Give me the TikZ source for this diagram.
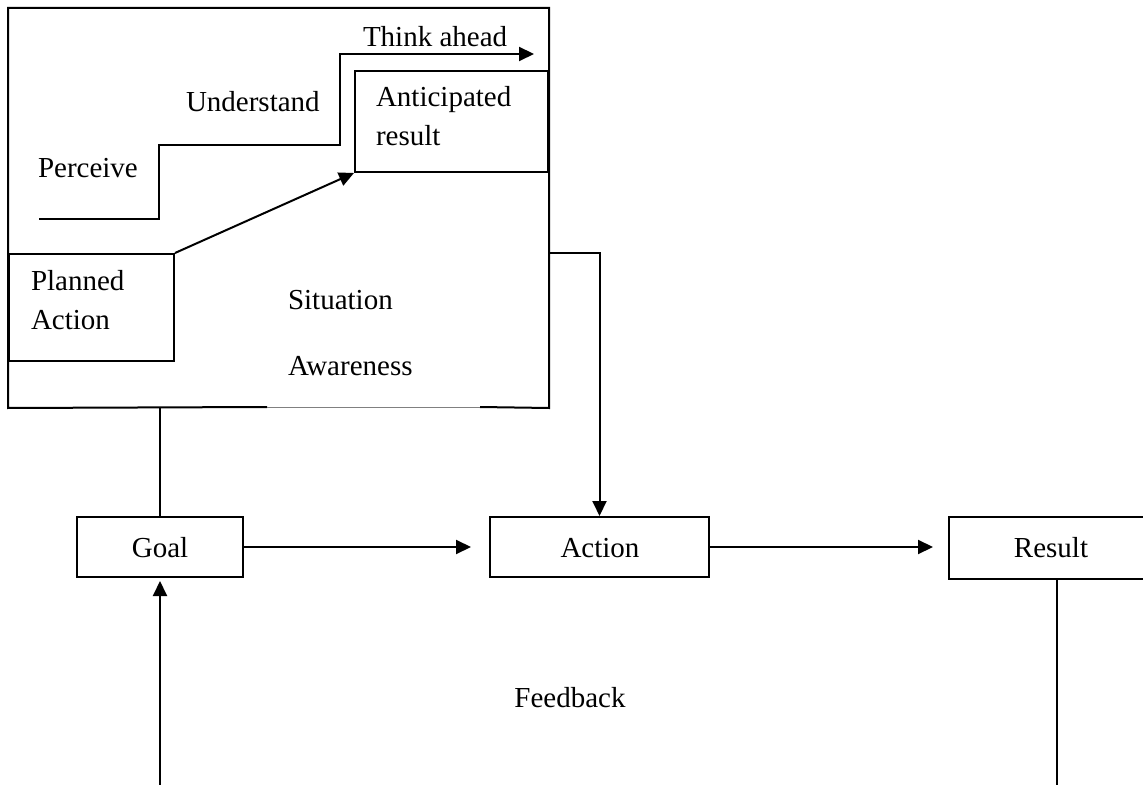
\documentclass[tikz,border=0pt]{standalone}
\usepackage{fontspec}
\setmainfont{Liberation Serif}
\usetikzlibrary{arrows.meta,fit,calc}
\begin{document}
\begin{tikzpicture}[x=0.5pt,y=-0.5pt,
  line width=1pt,
  box/.style={draw,inner sep=0pt,line width=1pt},
  lbl/.style={anchor=base west,inner sep=0pt,font=\fontsize{14.5}{17}\selectfont},
  clbl/.style={anchor=base,inner sep=0pt,font=\fontsize{14.5}{17}\selectfont},
  arr/.style={-{Triangle[length=7.5pt,width=7pt]}},
]
\fill[white] (0,0) rectangle (1143,785);
\useasboundingbox (0,0) rectangle (1143,785);
\clip (0,0) rectangle (1143,785);

% outer Situation Awareness box (bottom border interrupted by a white label area)
\node[inner sep=0pt,fit={(9,9) (548,407)}] (SA) {};
\coordinate (gapL) at (267,407);
\coordinate (gapR) at (480,407);
\draw (gapL) -- (SA.south west) -- (SA.north west) -- (SA.north east) -- (SA.south east) -- (gapR);
\draw[line width=0.5pt,gray] (gapL) -- (gapR);

% inner boxes
\node[box,fit={(9,254) (174,361)}] (PA) {};
\node[box,fit={(355,71) (548,172)}] (AR) {};

% lower boxes
\node[box,fit={(77,517) (243,577)}] (Goal) {};
\node[box,fit={(490,517) (709,577)}] (Action) {};
\node[box,fit={(949,517) (1170,579)}] (Result) {};

% texts
\node[lbl] (tThink) at (362,47) {Think ahead};
\node[lbl] (tUnder) at (185,112) {Understand};
\node[lbl] (tPerc) at (37,178) {Perceive};
\node[lbl] (tAnt1) at (375,107) {Anticipated};
\node[lbl] (tAnt2) at (375,146) {result};
\node[lbl] (tPA1) at (30,291) {Planned};
\node[lbl] (tPA2) at (30,330) {Action};
\node[lbl] (tSit) at (287,310) {Situation};
\node[lbl] (tAw) at (287,375) {Awareness};
\node[clbl] (tGoal) at (160,557) {Goal};
\node[clbl] (tAction) at (600,557) {Action};
\node[clbl] (tResult) at (1051,557) {Result};
\node[clbl] (tFeed) at (570,707) {Feedback};

% staircase Perceive -> Understand -> Think ahead
\coordinate (s0) at (39,219);
\coordinate (s1) at (159,145);
\coordinate (s2) at (340,54);
\coordinate (s3) at (534,54);
\draw[arr] (s0) -| (s1) -| (s2) -- (s3);

% planned action -> anticipated result
\draw[arr] (PA.north east) -- (AR.south west);

% SA -> Action
\draw[arr] (SA.east |- PA.north) -| (Action.north);

% Goal up to SA
\draw (Goal.north) -- (Goal.north |- SA.south);

% Goal -> Action -> Result
\draw[arr,shorten >=18pt*0.5] (Goal.east) -- (Action.west);
\draw[arr,shorten >=15pt*0.5] (Action.east) -- (Action.east -| Result.west);

% feedback loop ends
\coordinate (fbL) at (160,785);
\draw[arr,shorten >=1.5pt] (fbL) -- (Goal.south);
\coordinate (fbR) at (1057,785);
\draw (Result.south -| fbR) -- (fbR);
\end{tikzpicture}
\end{document}
